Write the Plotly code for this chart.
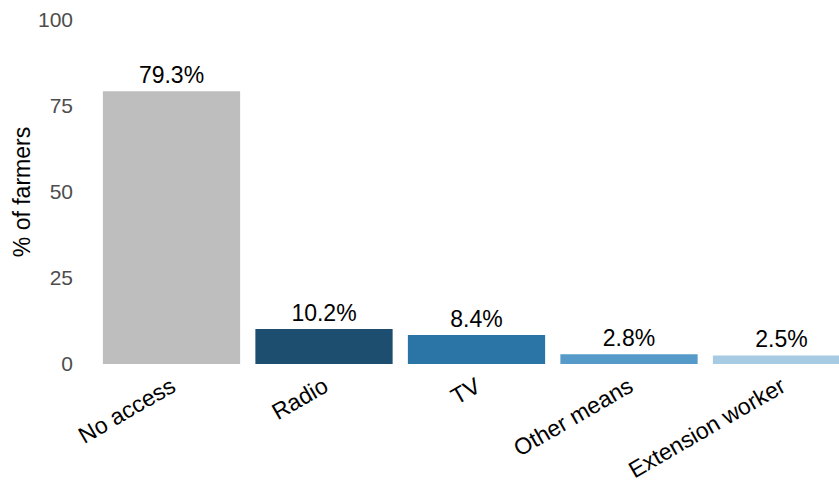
import plotly.graph_objects as go

categories = ["No access", "Radio", "TV", "Other means", "Extension worker"]
values = [79.3, 10.2, 8.4, 2.8, 2.5]
labels = ["79.3%", "10.2%", "8.4%", "2.8%", "2.5%"]
colors = ["#BEBEBE", "#1E4E6F", "#2A75A6", "#559AC9", "#A7CBE3"]
y_ticks = [0, 25, 50, 75, 100]

fig = go.Figure(go.Bar(
    x=list(range(len(categories))),
    y=values,
    marker=dict(color=colors, line=dict(width=0)),
    width=0.9,
    text=labels,
    textposition="outside",
    textfont=dict(size=23, color="black", family="Liberation Sans, Arial"),
    cliponaxis=False,
))

fig.update_layout(
    width=839, height=484,
    margin=dict(l=80, r=0, t=20, b=120, autoexpand=False),
    plot_bgcolor="white", paper_bgcolor="white",
    font=dict(family="Liberation Sans, Arial"),
    showlegend=False,
    xaxis=dict(
        range=[-0.6, 4.377],
        tickmode="array",
        tickvals=list(range(len(categories))),
        ticktext=categories,
        tickangle=-30,
        tickfont=dict(size=23, color="black"),
        showgrid=False, zeroline=False, showline=False, ticks="",
        ticklabelstandoff=4,
        automargin=False,
    ),
    yaxis=dict(
        range=[0, 100],
        tickvals=y_ticks,
        tickfont=dict(size=21, color="#4D4D4D"),
        showgrid=False, zeroline=False, showline=False, ticks="",
        ticklabelstandoff=6,
        automargin=False,
        title=dict(text="% of farmers", font=dict(size=23, color="black"), standoff=0),
    ),
)

fig.write_html("out.html", config={"displayModeBar": False},
               post_script="document.body.style.margin='0';")
